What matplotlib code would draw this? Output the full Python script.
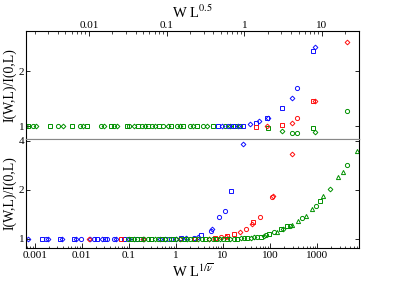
import matplotlib
matplotlib.use("Agg")
import matplotlib.pyplot as plt
from matplotlib.ticker import FixedLocator, NullLocator, LogLocator, NullFormatter

plt.rcParams['font.family'] = ['Liberation Serif', 'DejaVu Serif']
plt.rcParams['mathtext.fontset'] = 'stix'

# ---------------- top panel data (x = W L^0.5) ----------------
top_green_sq_x = [0.00165, 0.00314, 0.0061, 0.0095, 0.0192, 0.0306, 0.0433, 0.0582, 0.0808, 0.114, 0.165, 0.245, 0.398, 0.766, 2.04, 7.76]
top_green_sq_y = [1.0, 1.0, 1.0, 1.0, 1.0, 1.0, 1.0, 1.0, 1.0, 1.0, 1.0, 1.0, 1.0, 1.0, 0.964, 0.96]
top_green_di_x = [0.00154, 0.00207, 0.00466, 0.0083, 0.0157, 0.0228, 0.0384, 0.0528, 0.0711, 0.1036, 0.149, 0.218, 0.333, 0.66, 3.1, 8.24]
top_green_di_y = [1.0, 1.0, 1.0, 1.0, 1.0, 1.0, 1.0, 1.0, 1.0, 1.0, 1.0, 1.0, 1.0, 1.0, 0.91, 0.89]
top_green_ci_x = [0.00191, 0.00402, 0.00766, 0.0143, 0.0212, 0.0331, 0.0479, 0.0644, 0.091, 0.135, 0.201, 0.296, 0.569, 0.888, 4.16, 4.83, 20.7]
top_green_ci_y = [1.0, 1.0, 1.0, 1.0, 1.0, 1.0, 1.0, 1.0, 1.0, 1.0, 1.0, 1.0, 1.0, 1.0, 0.87, 0.87, 1.27]

top_blue_sq_x = [0.46, 0.72, 0.97, 1.43, 1.98, 3.1, 7.76]
top_blue_sq_y = [1.0, 1.0, 1.0, 1.055, 1.145, 1.33, 2.36]
top_blue_di_x = [0.52, 0.83, 1.19, 1.56, 2.04, 4.16, 8.24]
top_blue_di_y = [1.0, 1.0, 1.036, 1.09, 1.145, 1.51, 2.44]
top_blue_ci_x = [0.62, 4.83]
top_blue_ci_y = [1.0, 1.69]

top_red_sq_x = [1.43, 3.1, 7.76]
top_red_sq_y = [0.98, 1.02, 1.45]
top_red_di_x = [1.98, 4.16, 8.24, 20.7]
top_red_di_y = [1.0, 1.055, 1.45, 2.53]
top_red_ci_x = [4.83]
top_red_ci_y = [1.145]

# ---------------- bottom panel data (x = W L^{1/nu}) ----------------
bot_blue_di_x = [0.00071, 0.00189, 0.00375, 0.00745, 0.0148, 0.0267, 0.0529, 0.1, 0.2, 0.45, 1.0, 1.63, 2.94, 5.8, 26.7]
bot_blue_di_y = [1.0, 1.0, 1.0, 1.0, 1.0, 1.0, 1.0, 1.0, 1.0, 1.0, 1.0, 1.015, 1.03, 1.155, 3.83]
bot_blue_sq_x = [0.00141, 0.0034, 0.00676, 0.0208, 0.0309, 0.0783, 0.15, 0.3, 0.6, 1.28, 3.4, 14.8]
bot_blue_sq_y = [1.0, 1.0, 1.0, 1.0, 1.0, 1.0, 1.0, 1.0, 1.0, 1.01, 1.06, 1.97]
bot_blue_ci_x = [0.00171, 0.00953, 0.018, 0.034, 0.048, 0.8, 2.4, 5.6, 8.2, 11.0]
bot_blue_ci_y = [1.0, 1.0, 1.0, 1.0, 1.0, 1.0, 1.015, 1.12, 1.37, 1.48]

bot_red_di_x = [0.0143, 0.2, 1.2, 5.0, 11.6, 23.0, 41.0, 116.0, 294.0]
bot_red_di_y = [1.0, 1.0, 1.0, 1.0, 1.03, 1.106, 1.24, 1.83, 3.31]
bot_red_sq_x = [0.067, 0.5, 2.5, 6.8, 12.2, 17.1, 43.5]
bot_red_sq_y = [1.0, 1.0, 1.0, 1.015, 1.044, 1.075, 1.26]
bot_red_ci_x = [9.1, 30.9, 61.0, 110.0]
bot_red_ci_y = [1.03, 1.155, 1.37, 1.81]

bot_green_ci_x = [0.095, 0.15, 0.25, 0.42, 0.7, 1.2, 2.0, 3.5, 6.0, 10.0, 17.0, 28.0, 53.0, 82.0, 122.0, 267.0, 480.0, 950.0, 4350.0]
bot_green_ci_y = [1.0, 1.0, 1.0, 1.0, 1.0, 1.0, 1.0, 1.0, 1.0, 1.0, 1.0, 1.01, 1.03, 1.06, 1.106, 1.19, 1.35, 1.59, 2.83]
bot_green_sq_x = [0.11, 0.18, 0.3, 0.5, 0.85, 1.45, 2.4, 4.2, 7.2, 12.0, 20.0, 32.0, 64.0, 95.0, 171.0, 230.0, 1160.0]
bot_green_sq_y = [1.0, 1.0, 1.0, 1.0, 1.0, 1.0, 1.0, 1.0, 1.0, 1.0, 1.0, 1.015, 1.03, 1.075, 1.155, 1.19, 1.71]
bot_green_di_x = [0.13, 0.21, 0.36, 0.6, 1.0, 1.7, 2.9, 5.0, 8.5, 14.0, 24.0, 39.5, 45.5, 74.5, 189.0, 1890.0]
bot_green_di_y = [1.0, 1.0, 1.0, 1.0, 1.0, 1.0, 1.0, 1.0, 1.0, 1.0, 1.005, 1.015, 1.03, 1.044, 1.155, 2.03]
bot_green_tr_x = [141.0, 294.0, 394.0, 580.0, 780.0, 1340.0, 2800.0, 3570.0, 7100.0]
bot_green_tr_y = [1.106, 1.22, 1.28, 1.39, 1.52, 1.83, 2.38, 2.59, 3.46]

top_xticks = [0.01, 0.1, 1, 10]
top_xticklabels = ['0.01', '0.1', '1', '10']
top_yticks = [1, 2]
bot_xticks = [0.001, 0.01, 0.1, 1, 10, 100, 1000]
bot_xticklabels = ['0.001', '0.01', '0.1', '1', '10', '100', '1000']
bot_yticks = [1, 2, 4]

fig = plt.figure(figsize=(3.99, 2.82), dpi=100)
ax1 = fig.add_axes([0.065, 0.507, 0.835, 0.383])
ax2 = fig.add_axes([0.065, 0.1206, 0.835, 0.3864])

ms = 3.0
mew = 0.7

def pts(ax, x, y, color, marker, size=ms):
    ax.plot(x, y, linestyle='none', marker=marker, markersize=size,
            markerfacecolor='none', markeredgecolor=color, markeredgewidth=mew)

green = '#009000'
blue = '#1010ff'
red = '#ff1010'
# top
pts(ax1, top_green_sq_x, top_green_sq_y, green, 's', 2.6)
pts(ax1, top_green_di_x, top_green_di_y, green, 'D', 2.4)
pts(ax1, top_green_ci_x, top_green_ci_y, green, 'o')
pts(ax1, top_blue_sq_x, top_blue_sq_y, blue, 's', 2.6)
pts(ax1, top_blue_di_x, top_blue_di_y, blue, 'D', 2.4)
pts(ax1, top_blue_ci_x, top_blue_ci_y, blue, 'o')
pts(ax1, top_red_sq_x, top_red_sq_y, red, 's', 2.6)
pts(ax1, top_red_di_x, top_red_di_y, red, 'D', 2.4)
pts(ax1, top_red_ci_x, top_red_ci_y, red, 'o')

# bottom
pts(ax2, bot_blue_di_x, bot_blue_di_y, blue, 'D', 2.4)
pts(ax2, bot_blue_sq_x, bot_blue_sq_y, blue, 's', 2.6)
pts(ax2, bot_blue_ci_x, bot_blue_ci_y, blue, 'o')
pts(ax2, bot_red_di_x, bot_red_di_y, red, 'D', 2.4)
pts(ax2, bot_red_sq_x, bot_red_sq_y, red, 's', 2.6)
pts(ax2, bot_red_ci_x, bot_red_ci_y, red, 'o')
pts(ax2, bot_green_ci_x, bot_green_ci_y, green, 'o')
pts(ax2, bot_green_sq_x, bot_green_sq_y, green, 's', 2.6)
pts(ax2, bot_green_di_x, bot_green_di_y, green, 'D', 2.4)
pts(ax2, bot_green_tr_x, bot_green_tr_y, green, '^')

# top axes formatting
ax1.set_xscale('log')
ax1.set_xlim(0.00155, 30)
ax1.set_ylim(0.764, 2.727)
ax1.xaxis.set_major_locator(FixedLocator(top_xticks))
ax1.set_xticklabels(top_xticklabels)
ax1.xaxis.set_minor_locator(LogLocator(base=10, subs=range(2, 10)))
ax1.xaxis.set_minor_formatter(NullFormatter())
ax1.set_yticks(top_yticks)
ax1.yaxis.set_minor_locator(NullLocator())
ax1.tick_params(axis='x', which='both', direction='in', top=True, bottom=False,
                labeltop=True, labelbottom=False, labelsize=8, pad=1)
ax1.tick_params(axis='x', which='major', length=3.5, width=0.6)
ax1.tick_params(axis='x', which='minor', length=1.8, width=0.5)
ax1.tick_params(axis='y', which='major', direction='in', left=True, right=True,
                length=3, width=0.6, labelsize=8, pad=1)
ax1.xaxis.set_label_position('top')
ax1.set_xlabel(r'W L$^{0.5}$', fontsize=10.5, labelpad=2)
ax1.set_ylabel('I(W,L)/I(0,L)', fontsize=10, labelpad=2)

# bottom axes formatting
ax2.set_xscale('log')
ax2.set_yscale('log')
ax2.set_xlim(0.00065, 7800)
ax2.set_ylim(0.878, 4.1)
ax2.xaxis.set_major_locator(FixedLocator(bot_xticks))
ax2.set_xticklabels(bot_xticklabels)
ax2.xaxis.set_minor_locator(LogLocator(base=10, subs=range(2, 10)))
ax2.xaxis.set_minor_formatter(NullFormatter())
ax2.yaxis.set_major_locator(FixedLocator(bot_yticks))
ax2.set_yticklabels([str(v) for v in bot_yticks])
ax2.yaxis.set_minor_locator(NullLocator())
ax2.yaxis.set_minor_formatter(NullFormatter())
ax2.tick_params(axis='x', which='both', direction='in', top=False, bottom=True,
                labelsize=8, pad=2)
ax2.tick_params(axis='x', which='major', length=3.5, width=0.6)
ax2.tick_params(axis='x', which='minor', length=1.8, width=0.5)
ax2.tick_params(axis='y', which='major', direction='in', left=True, right=True,
                length=3, width=0.6, labelsize=8, pad=1)
ax2.set_xlabel(r'W L$^{1/\overline{\nu}}$', fontsize=10.5, labelpad=2)
ax2.set_ylabel('I(W,L)/I(0,L)', fontsize=10, labelpad=2)

for ax in (ax1, ax2):
    for s in ax.spines.values():
        s.set_linewidth(0.8)
ax2.spines['top'].set_color('#888888')
ax1.spines['bottom'].set_color('#888888')

fig.savefig('out.png', dpi=100)
